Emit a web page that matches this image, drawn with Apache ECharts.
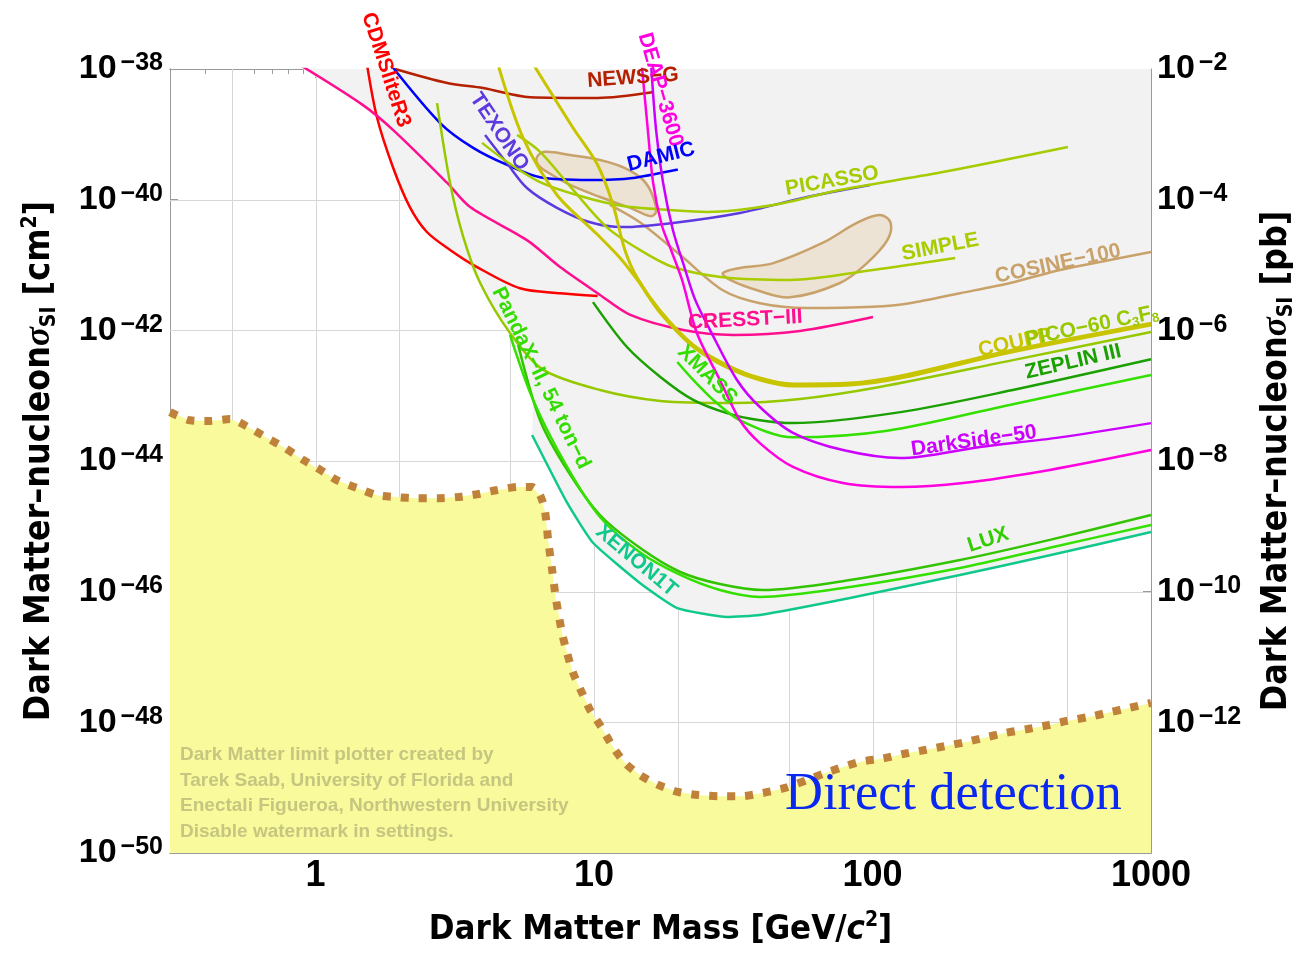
<!DOCTYPE html>
<html><head><meta charset="utf-8">
<script src="https://cdn.jsdelivr.net/npm/echarts@6/dist/echarts.min.js"></script>
<style>html,body{margin:0;padding:0;background:#fff}#c{width:1296px;height:958px}</style>
</head><body><div id="c"></div>
<script>
// ---------- data: [mass (GeV/c^2), sigma_SI (cm^2)] ----------
const cdmsliteR3 = [[1.52,1.38e-38],[1.66,1.84e-39],[1.90,3.05e-40],[2.18,7.7e-41],[2.51,3.2e-41],[3.04,1.7e-41],[3.80,9.3e-42],[5.42,4.4e-42],[7.55,3.7e-42],[10.3,3.35e-42]];
const cresst3 = [[0.88,1.15e-38],[1.48,2.8e-39],[1.90,1.16e-39],[2.97,1.8e-40],[3.59,7.7e-41],[5.74,2.4e-41],[7.55,9.3e-42],[10.3,3.7e-42],[13.5,1.72e-42],[20.9,1.01e-42],[31.6,8.5e-43],[54.9,9.8e-43],[100.4,1.60e-42]];
const newsG = [[1.93,1.0e-38],[2.97,6.1e-39],[3.99,5.1e-39],[5.89,3.7e-39],[10.3,3.6e-39],[16.2,4.4e-39]];
const damic = [[1.85,1.2e-38],[2.80,1.49e-39],[3.68,6.2e-40],[4.87,3.4e-40],[6.40,2.2e-40],[9.68,2.0e-40],[13.8,2.15e-40],[20.0,2.9e-40]];
const texono = [[4.06,9.8e-40],[4.87,3.6e-40],[5.74,1.51e-40],[7.36,7.5e-41],[9.68,4.5e-41],[12.7,3.8e-41],[19.2,4.4e-41],[33.4,6.25e-41],[58.2,1.10e-40],[97.9,1.68e-40]];
const picasso = [[3.96,7.4e-40],[4.87,3.8e-40],[6.40,1.86e-40],[8.91,1.14e-40],[12.7,8.0e-41],[19.2,6.9e-41],[25.5,6.5e-41],[44.0,8.3e-41],[76.4,1.41e-40],[175,2.6e-40],[503,6.4e-40]];
const simple = [[5.29,9.8e-40],[6.40,5.4e-40],[8.41,1.41e-40],[11.1,3.8e-41],[14.6,1.7e-41],[19.2,9.3e-42],[29.0,6.5e-42],[50.6,5.9e-42],[100.4,8.4e-42],[198,1.28e-41]];
const cosine100 = [[11.4,8.3e-41],[14.6,4.5e-41],[20.4,1.42e-41],[29.0,4.1e-42],[39.4,2.6e-42],[58.2,2.2e-42],[100.4,2.3e-42],[136,2.6e-42],[206,3.7e-42],[312,5.3e-42],[471,8.4e-42],[712,1.19e-41],[1000,1.58e-41]];
const damaLow = [[6.24,4.5e-40],[6.67,5.4e-40],[8.2,4.83e-40],[10.5,4.05e-40],[12.9,3.05e-40],[15.0,2.0e-40],[16.2,1.18e-40],[16.7,6.5e-41],[15.9,5.6e-41],[13.5,7.5e-41],[10.5,1.10e-40],[8.2,1.68e-40],[6.84,2.6e-40],[6.30,3.4e-40]];
const damaHigh = [[29.0,7.5e-42],[33.4,9.0e-42],[44.0,1.07e-41],[66.4,2.2e-41],[87.9,4.4e-41],[106,5.8e-41],[116,4.5e-41],[113,2.4e-41],[95.5,1.07e-41],[76.4,5.3e-42],[50.6,3.2e-42],[38.5,4.1e-42],[30.8,5.9e-42]];
const couppA = [[4.47,1.37e-38],[5.56,8.8e-40],[7.36,1.18e-40],[10.3,2.9e-41],[12.4,1.28e-41],[14.3,5.9e-42],[17.3,1.84e-42],[22.7,5.6e-43],[30.0,2.7e-43],[39.4,1.74e-43],[51.8,1.41e-43],[83.0,1.46e-43],[126,1.86e-43],[319,4.7e-43],[1000,1.21e-42]];
const couppB = [[5.92,1.37e-38],[8.41,1.25e-39],[10.3,3.4e-40],[11.7,8.3e-41],[12.9,1.7e-41],[14.3,6.3e-42],[17.3,1.98e-42],[22.7,6.0e-43],[30.0,2.95e-43],[39.4,1.86e-43],[51.8,1.51e-43],[83.0,1.56e-43],[126,2.0e-43],[319,5.0e-43],[1000,1.29e-42]];
const pico60 = [[2.73,3.0e-39],[3.04,1.8e-40],[3.39,2.7e-41],[3.90,5.3e-42],[4.99,9.1e-43],[6.56,2.5e-43],[10.5,1.22e-43],[17.3,8.3e-44],[31.6,7.7e-44],[54.9,8.9e-44],[106,1.36e-43],[319,3.5e-43],[1000,9.4e-43]];
const zeplin3 = [[9.91,2.7e-42],[13.1,5.6e-43],[17.3,1.93e-43],[22.7,8.6e-44],[30.0,5.4e-44],[39.4,4.2e-44],[51.8,3.8e-44],[126,5.6e-44],[319,1.22e-43],[1000,3.6e-43]];
const xmass = [[19.9,3.27e-43],[22.7,1.74e-43],[26.8,8.6e-44],[33.4,4.2e-44],[51.8,2.3e-44],[113,2.9e-44],[319,7.4e-44],[1000,2.07e-43]];
const darkSide50 = [[16.0,1.3e-38],[16.7,1.16e-39],[17.7,1.8e-40],[19.2,3.4e-41],[21.1,9.3e-42],[23.1,2.9e-42],[26.1,1.01e-42],[32.6,1.74e-43],[39.4,6.7e-44],[51.8,2.7e-44],[78.3,1.47e-44],[126,1.11e-44],[243,1.64e-44],[471,2.3e-44],[1000,3.8e-44]];
const deap3600 = [[14.8,1.3e-38],[15.6,1.16e-39],[16.3,1.8e-40],[17.5,4.1e-41],[18.9,1.7e-41],[20.7,5.9e-42],[23.4,9.1e-43],[28.3,1.74e-43],[33.4,4.2e-44],[39.4,1.88e-44],[51.8,8.1e-45],[78.3,4.6e-45],[126,4.0e-45],[211,4.6e-45],[433,7.3e-45],[1000,1.47e-44]];
const lux = [[5.34,6.0e-43],[6.40,4.2e-44],[8.0,7.3e-45],[10.5,1.49e-45],[14.6,4.7e-46],[20.4,2.0e-46],[28.3,1.31e-46],[40.4,1.06e-46],[83.0,1.51e-46],[206,3.05e-46],[433,6.2e-46],[1000,1.49e-45]];
const pandaX2 = [[4.99,8.5e-43],[6.04,8.6e-44],[8.0,8.1e-45],[10.5,1.39e-45],[14.6,4.0e-46],[20.4,1.8e-46],[28.3,1.06e-46],[39.4,8.3e-47],[83.0,1.18e-46],[206,2.3e-46],[433,4.7e-46],[1000,1.05e-45]];
const xenon1T = [[5.99,2.5e-44],[8.0,2.3e-45],[9.91,5.6e-46],[14.6,1.36e-46],[19.9,5.6e-47],[30.0,4.1e-47],[39.4,4.4e-47],[83.0,8.0e-47],[206,1.80e-46],[433,3.6e-46],[1000,8.2e-46]];
const neutrinoFloor = [[0.30,5.6e-44],[0.354,4.2e-44],[0.418,4.1e-44],[0.493,4.4e-44],[0.573,3.3e-44],[0.670,2.25e-44],[0.777,1.58e-44],[0.902,1.04e-44],[1.04,7.3e-45],[1.19,5.1e-45],[1.41,3.86e-45],[1.66,3.0e-45],[1.96,2.8e-45],[2.31,2.7e-45],[2.73,2.7e-45],[3.22,2.8e-45],[3.80,3.1e-45],[4.49,3.6e-45],[5.34,4.0e-45],[5.99,4.0e-45],[6.40,3.0e-45],[6.67,1.66e-45],[6.84,6.2e-46],[7.07,2.15e-46],[7.31,7.4e-47],[7.68,2.3e-47],[8.0,1.15e-47],[8.41,5.7e-48],[9.06,2.8e-48],[9.68,1.54e-48],[10.5,9.1e-49],[11.7,4.2e-49],[12.9,2.4e-49],[14.6,1.56e-49],[17.0,1.10e-49],[20.0,8.6e-50],[23.7,7.7e-50],[28.3,7.4e-50],[33.7,7.4e-50],[40.4,8.3e-50],[48.5,9.9e-50],[58.2,1.31e-49],[67.5,1.67e-49],[78.3,2.07e-49],[90.9,2.5e-49],[109,2.8e-49],[130,3.3e-49],[156,3.8e-49],[181,4.3e-49],[217,5.0e-49],[251,5.8e-49],[301,6.9e-49],[361,7.9e-49],[430,9.1e-49],[499,1.05e-48],[598,1.21e-48],[718,1.44e-48],[833,1.66e-48],[1000,1.98e-48]];
const excludedRegion = [[0.90,1.0e-38],[1000,1.0e-38],[1000,8.2e-46],[433,3.6e-46],[206,1.80e-46],[83.0,8.0e-47],[39.4,4.4e-47],[30.0,4.1e-47],[19.9,5.6e-47],[14.6,1.36e-46],[9.91,5.6e-46],[8.0,2.3e-45],[5.99,2.5e-44],[6.04,8.6e-44],[4.99,8.5e-43],[3.90,5.3e-42],[3.65,8.4e-42],[3.04,1.7e-41],[2.51,3.2e-41],[2.18,7.7e-41],[1.90,3.05e-40],[1.65,2.2e-39],[1.48,2.8e-39],[0.90,1.0e-38]];

// ---------- axes ----------
const X_MIN = 0.3, X_MAX = 1000, Y_MIN = 1e-50, Y_MAX = 1e-38;
const CM2_PER_PB = 1e-36;
const xMajorTicks = [1, 10, 100, 1000];
const xMinorTicks = [0.4,0.5,0.6,0.7,0.8,0.9,2,3,4,5,6,7,8,9,20,30,40,50,60,70,80,90,200,300,400,500,600,700,800,900];
const xGridLines = [0.5,1,2,5,10,20,50,100,200,500];
const yLabelTicks = [1e-50,1e-48,1e-46,1e-44,1e-42,1e-40,1e-38];
const yGridLines = [1e-48,1e-46,1e-44,1e-42,1e-40];
const pbLabelTicks = [1e-12,1e-10,1e-8,1e-6,1e-4,1e-2];

// ---------- annotations ----------
const curveLabels = [
  {text:'CDMSliteR3', m:1.79, s:9.7e-39, rot:-72, color:'#ff0000'},
  {text:'NEWS\u2212G', m:13.8, s:7.3e-39, rot:4, color:'#b52000'},
  {text:'DEAP\u22123600', m:17.3, s:4.8e-39, rot:-74, color:'#ff00e0'},
  {text:'TEXONO', m:4.56, s:1.09e-39, rot:-56, color:'#5c3ae0'},
  {text:'DAMIC', m:17.4, s:4.5e-40, rot:14, color:'#0000ff'},
  {text:'PICASSO', m:71.6, s:1.93e-40, rot:10, color:'#a4cc00'},
  {text:'SIMPLE', m:175, s:1.88e-41, rot:11, color:'#a8cc00'},
  {text:'COSINE\u2212100', m:463, s:1.04e-41, rot:12, color:'#c8a26a'},
  {text:'CRESST\u2212III', m:34.9, s:1.44e-42, rot:3, color:'#ff0f8f'},
  {text:'COUPP', m:325, s:6.4e-43, rot:12, color:'#c8c400'},
  {rich:'{t|PICO\u221260 C}{b|3}{t|F}{b|8}', m:614, s:1.16e-42, rot:12, color:'#96c800'},
  {text:'ZEPLIN III', m:525, s:3.27e-43, rot:13, color:'#1aa000'},
  {text:'XMASS', m:25.5, s:2.07e-43, rot:-45, color:'#33dd00'},
  {text:'DarkSide\u221250', m:231, s:2.02e-44, rot:8, color:'#cc00ff'},
  {text:'PandaX\u2212II, 54 ton\u2212d', m:6.45, s:1.86e-43, rot:-64, color:'#33dd00'},
  {text:'XENON1T', m:14.2, s:2.95e-46, rot:-40, color:'#10c88c'},
  {text:'LUX', m:260, s:6.2e-46, rot:18, color:'#33cc00'}
];
const watermark = {text:'Dark Matter limit plotter created by\nTarek Saab, University of Florida and\nEnectali Figueroa, Northwestern University\nDisable watermark in settings.', m:0.326, s:8.28e-50};
const regionLabel = {text:'Direct detection', m:48.5, s:7.7e-50};

const FONT = "'Liberation Sans', Arial, sans-serif";
const NARROW = "'Liberation Sans Narrow', 'DejaVu Sans Condensed', 'Liberation Sans', sans-serif";
const AX = '#9a9a9a';

function expLabelShift(shift) {
  return function (v) {
    const e = Math.round(Math.log10(v)) + shift;
    return '{b|10}{s|' + (e < 0 ? '\u2212' : '') + Math.abs(e) + '}';
  };
}
const expRich = {
  b: {fontSize: 34, fontWeight: 'bold', fontFamily: FONT, color: '#000', lineHeight: 36},
  s: {fontSize: 25, fontWeight: 'bold', fontFamily: FONT, color: '#000', lineHeight: 12, verticalAlign: 'top', padding: [0, 0, 0, 4]}
};

function xAxisDef(pos, ticks, len, labels) {
  return {
    type: 'log', logBase: 10, min: X_MIN, max: X_MAX, position: pos, gridIndex: 0,
    axisLine: {show: true, lineStyle: {color: AX, width: 1}},
    axisTick: {show: true, inside: true, length: len, customValues: ticks, lineStyle: {color: AX, width: 1}},
    axisLabel: labels ? {show: true, customValues: xMajorTicks, margin: 5, fontSize: 36, fontWeight: 'bold', fontFamily: FONT, color: '#000', formatter: v => String(Math.round(v))} : {show: false},
    splitLine: {show: false}, minorTick: {show: false}, minorSplitLine: {show: false}
  };
}

const nameRich = {
  i: {fontSize: 35, fontWeight: 'bold', fontStyle: 'italic', fontFamily: "'Liberation Serif', serif", color: '#000'},
  it: {fontSize: 34.5, fontWeight: 'bold', fontStyle: 'italic', fontFamily: NARROW, color: '#000'},
  sub: {fontSize: 21, fontWeight: 'bold', fontFamily: NARROW, color: '#000', verticalAlign: 'bottom', lineHeight: 22},
  sup: {fontSize: 21, fontWeight: 'bold', fontFamily: NARROW, color: '#000', verticalAlign: 'top', lineHeight: 14}
};
const nameStyleY = {fontSize: 35.5, fontWeight: 'bold', fontFamily: NARROW, color: '#000', lineHeight: 40, rich: nameRich};
const nameStyleX = {fontSize: 34.5, fontWeight: 'bold', fontFamily: NARROW, color: '#000', lineHeight: 40, rich: nameRich};

function lineSeries(name, data, color, width, z, smooth) {
  return {type: 'line', name, data, xAxisIndex: 0, yAxisIndex: 0, symbol: 'none', showSymbol: false,
    smooth: smooth === undefined ? 0.3 : smooth, clip: true, silent: true,
    lineStyle: {color, width}, z: z || 5};
}

function polygonSeries(points, fill, stroke, z, smooth) {
  return {type: 'custom', coordinateSystem: 'cartesian2d', xAxisIndex: 0, yAxisIndex: 0, silent: true, clip: true, z,
    data: [points[0]],
    renderItem: (params, api) => ({
      type: 'polygon',
      shape: {points: points.map(p => api.coord(p)), smooth: smooth || 0},
      style: {fill, stroke: stroke || null, lineWidth: stroke ? 2.5 : 0}
    })
  };
}

const gridSeries = {
  type: 'custom', coordinateSystem: 'cartesian2d', xAxisIndex: 0, yAxisIndex: 0, silent: true, clip: true, z: 1,
  data: [[1, 1e-44]],
  renderItem: (params, api) => {
    const children = [];
    xGridLines.forEach(v => {
      const a = api.coord([v, Y_MIN]), b = api.coord([v, Y_MAX]);
      const x = Math.round(a[0]) + 0.5;
      children.push({type: 'line', shape: {x1: x, y1: a[1], x2: x, y2: b[1]}, style: {stroke: '#d6d6d6', lineWidth: 1}});
    });
    yGridLines.forEach(v => {
      const a = api.coord([X_MIN, v]), b = api.coord([X_MAX, v]);
      const y = Math.round(a[1]) + 0.5;
      children.push({type: 'line', shape: {x1: a[0], y1: y, x2: b[0], y2: y}, style: {stroke: '#d6d6d6', lineWidth: 1}});
    });
    return {type: 'group', children};
  }
};

const labelSeries = {
  type: 'custom', coordinateSystem: 'cartesian2d', xAxisIndex: 0, yAxisIndex: 0, silent: true, clip: false, z: 20,
  data: curveLabels.map(l => [l.m, l.s]),
  renderItem: (params, api) => {
    const l = curveLabels[params.dataIndex];
    const p = api.coord([l.m, l.s]);
    const style = {align: 'center', verticalAlign: 'middle', fill: l.color,
      fontSize: 21, fontWeight: 'bold', fontFamily: FONT};
    if (l.rich) {
      style.text = l.rich;
      style.rich = {
        t: {fontSize: 21, fontWeight: 'bold', fontFamily: FONT, fill: l.color, lineHeight: 24},
        b: {fontSize: 13, fontWeight: 'bold', fontFamily: FONT, fill: l.color, lineHeight: 12, verticalAlign: 'bottom'}
      };
    } else style.text = l.text;
    return {type: 'text', x: p[0], y: p[1], rotation: l.rot * Math.PI / 180, style};
  }
};
const textSeries = {
  type: 'custom', coordinateSystem: 'cartesian2d', xAxisIndex: 0, yAxisIndex: 0, silent: true, clip: false, z: 19,
  data: [[watermark.m, watermark.s], [regionLabel.m, regionLabel.s]],
  renderItem: (params, api) => {
    if (params.dataIndex === 0) {
      const p = api.coord([watermark.m, watermark.s]);
      return {type: 'text', x: p[0], y: p[1], style: {text: watermark.text, align: 'left', verticalAlign: 'middle',
        fill: '#c6c680', fontSize: 19, fontWeight: 'bold', fontFamily: FONT, lineHeight: 25.5}};
    }
    const p = api.coord([regionLabel.m, regionLabel.s]);
    return {type: 'text', x: p[0], y: p[1], style: {text: regionLabel.text, align: 'left', verticalAlign: 'middle',
      fill: '#0a28f0', fontSize: 52.5, fontFamily: "'Liberation Serif', 'Times New Roman', serif"}};
  }
};

const pbAxisBase = {
  type: 'log', logBase: 10, min: Y_MIN / CM2_PER_PB, max: Y_MAX / CM2_PER_PB,
  axisLine: {show: true, lineStyle: {color: AX, width: 1}},
  splitLine: {show: false}, minorTick: {show: false}
};

const option = {
  animation: false,
  backgroundColor: '#ffffff',
  grid: {left: 170, right: 145, top: 69, bottom: 105, containLabel: false, outerBoundsMode: 'none'},
  xAxis: [
    Object.assign(xAxisDef('bottom', xMajorTicks, 9, true), {
      name: 'Dark Matter Mass [GeV/{it|c}{sup|2}]', nameLocation: 'middle', nameGap: 57, nameTextStyle: nameStyleX
    }),
    xAxisDef('bottom', xMinorTicks, 5, false),
    xAxisDef('top', xMajorTicks, 9, false),
    xAxisDef('top', xMinorTicks, 5, false)
  ],
  yAxis: [
    // cm^2 axis carrying the data
    {type: 'log', logBase: 10, min: Y_MIN, max: Y_MAX, position: 'left',
      axisLine: {show: true, lineStyle: {color: AX, width: 1}},
      axisTick: {show: false}, axisLabel: {show: false},
      splitLine: {show: false}, minorTick: {show: false},
      name: 'Dark Matter\u2013nucleon{i|\u03c3}{sub|SI} [cm{sup|2}]', nameLocation: 'middle', nameGap: 110, nameRotate: 90,
      nameTextStyle: nameStyleY},
    // right pb axis
    Object.assign({}, pbAxisBase, {position: 'right',
      axisTick: {show: true, inside: true, length: 8, customValues: pbLabelTicks, lineStyle: {color: AX}},
      axisLabel: {customValues: pbLabelTicks, formatter: expLabelShift(0), margin: 6, rich: expRich},
      name: 'Dark Matter\u2013nucleon{i|\u03c3}{sub|SI} [pb]', nameLocation: 'middle', nameGap: 106, nameRotate: 90,
      nameTextStyle: nameStyleY}),
    // left tick labels in cm^2 (same scale expressed in pb, shifted by 36 decades)
    Object.assign({}, pbAxisBase, {position: 'left',
      axisTick: {show: true, inside: true, length: 8, customValues: yLabelTicks.map(v => v / CM2_PER_PB), lineStyle: {color: AX}},
      axisLabel: {customValues: yLabelTicks.map(v => v / CM2_PER_PB), formatter: expLabelShift(-36), margin: 7, rich: expRich}})
  ],
  series: [
    gridSeries,
    polygonSeries(excludedRegion, '#f2f2f2', null, 2),
    polygonSeries(neutrinoFloor.concat([[X_MAX, Y_MIN], [X_MIN, Y_MIN]]), '#f8fa9c', null, 3),
    {type: 'line', data: neutrinoFloor, xAxisIndex: 0, yAxisIndex: 0, symbol: 'none', smooth: 0.25, silent: true, z: 3,
      lineStyle: {color: '#c0823a', width: 8, type: [8, 10], cap: 'butt'}},
    polygonSeries(damaLow, '#ece3d4', '#c8a26a', 4, 0.35),
    polygonSeries(damaHigh, '#ece3d4', '#c8a26a', 4, 0.35),
    lineSeries('COSINE-100', cosine100, '#c8a26a', 2.5),
    lineSeries('NEWS-G', newsG, '#b52000', 2.5),
    lineSeries('CDMSliteR3', cdmsliteR3, '#ff0000', 2.5),
    lineSeries('CRESST-III', cresst3, '#ff0f8f', 2.5),
    lineSeries('DAMIC', damic, '#0000ff', 2.5),
    lineSeries('TEXONO', texono, '#5c3ae0', 2.5),
    lineSeries('PICASSO', picasso, '#a4cc00', 2.5),
    lineSeries('SIMPLE', simple, '#a8cc00', 2.5),
    lineSeries('PICO-60 C3F8', pico60, '#96c800', 2.5),
    lineSeries('COUPP', couppA, '#c8c400', 3),
    lineSeries('COUPP 2', couppB, '#c8c400', 3),
    lineSeries('ZEPLIN III', zeplin3, '#1aa000', 2.5),
    lineSeries('XMASS', xmass, '#33e000', 2.5),
    lineSeries('DarkSide-50', darkSide50, '#cc00ff', 2.5),
    lineSeries('DEAP-3600', deap3600, '#ff00e0', 2.5),
    lineSeries('LUX', lux, '#33c400', 2.5),
    lineSeries('PandaX-II', pandaX2, '#33e000', 2.5),
    lineSeries('XENON1T', xenon1T, '#10c88c', 2.5, 5, 0.15),
    textSeries,
    labelSeries
  ]
};

const chart = echarts.init(document.getElementById('c'), null, {renderer: 'canvas'});
chart.setOption(option);
</script>
</body></html>
